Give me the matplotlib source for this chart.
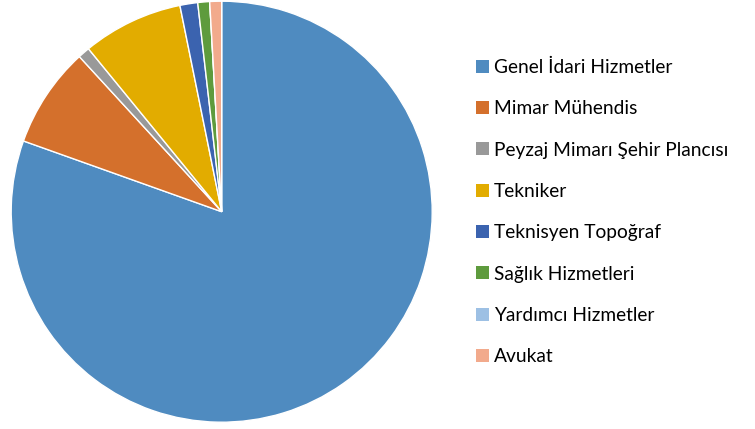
import matplotlib
matplotlib.use("Agg")
import matplotlib.pyplot as plt
from matplotlib.patches import Patch

categories = ["Genel İdari Hizmetler", "Mimar Mühendis", "Peyzaj Mimarı Şehir Plancısı",
              "Tekniker", "Teknisyen Topoğraf", "Sağlık Hizmetleri",
              "Yardımcı Hizmetler", "Avukat"]
values = [177, 17, 2, 17, 3, 2, 0, 2]
colors = ["#4F8BC0", "#D4702C", "#999999", "#E2AC00", "#3B63AF", "#5E9B3D", "#9DC0E4", "#F2AA8C"]

W, H = 755, 429
fig = plt.figure(figsize=(W / 100, H / 100), dpi=100)
cx, cy, r = 221.7, 211.7, 210.5
ax = fig.add_axes([(cx - r) / W, (H - cy - r) / H, 2 * r / W, 2 * r / H])
wedges, _ = ax.pie(values, colors=colors, startangle=90, counterclock=False,
                   wedgeprops=dict(edgecolor="white", linewidth=1.0))
ax.set_xlim(-1, 1)
ax.set_ylim(-1, 1)
ax.set_aspect("equal")
ax.axis("off")

handles = [Patch(facecolor=c, edgecolor="none") for c in colors]
leg = fig.legend(handles, categories, loc="upper left",
                 bbox_to_anchor=(468.5 / W, 1 - 51 / H), frameon=False,
                 prop={"family": "Lato", "size": 13.8},
                 handlelength=0.68, handleheight=0.68, handletextpad=0.25,
                 labelspacing=1.27, borderaxespad=0)
fig.savefig("out.png", dpi=100)
